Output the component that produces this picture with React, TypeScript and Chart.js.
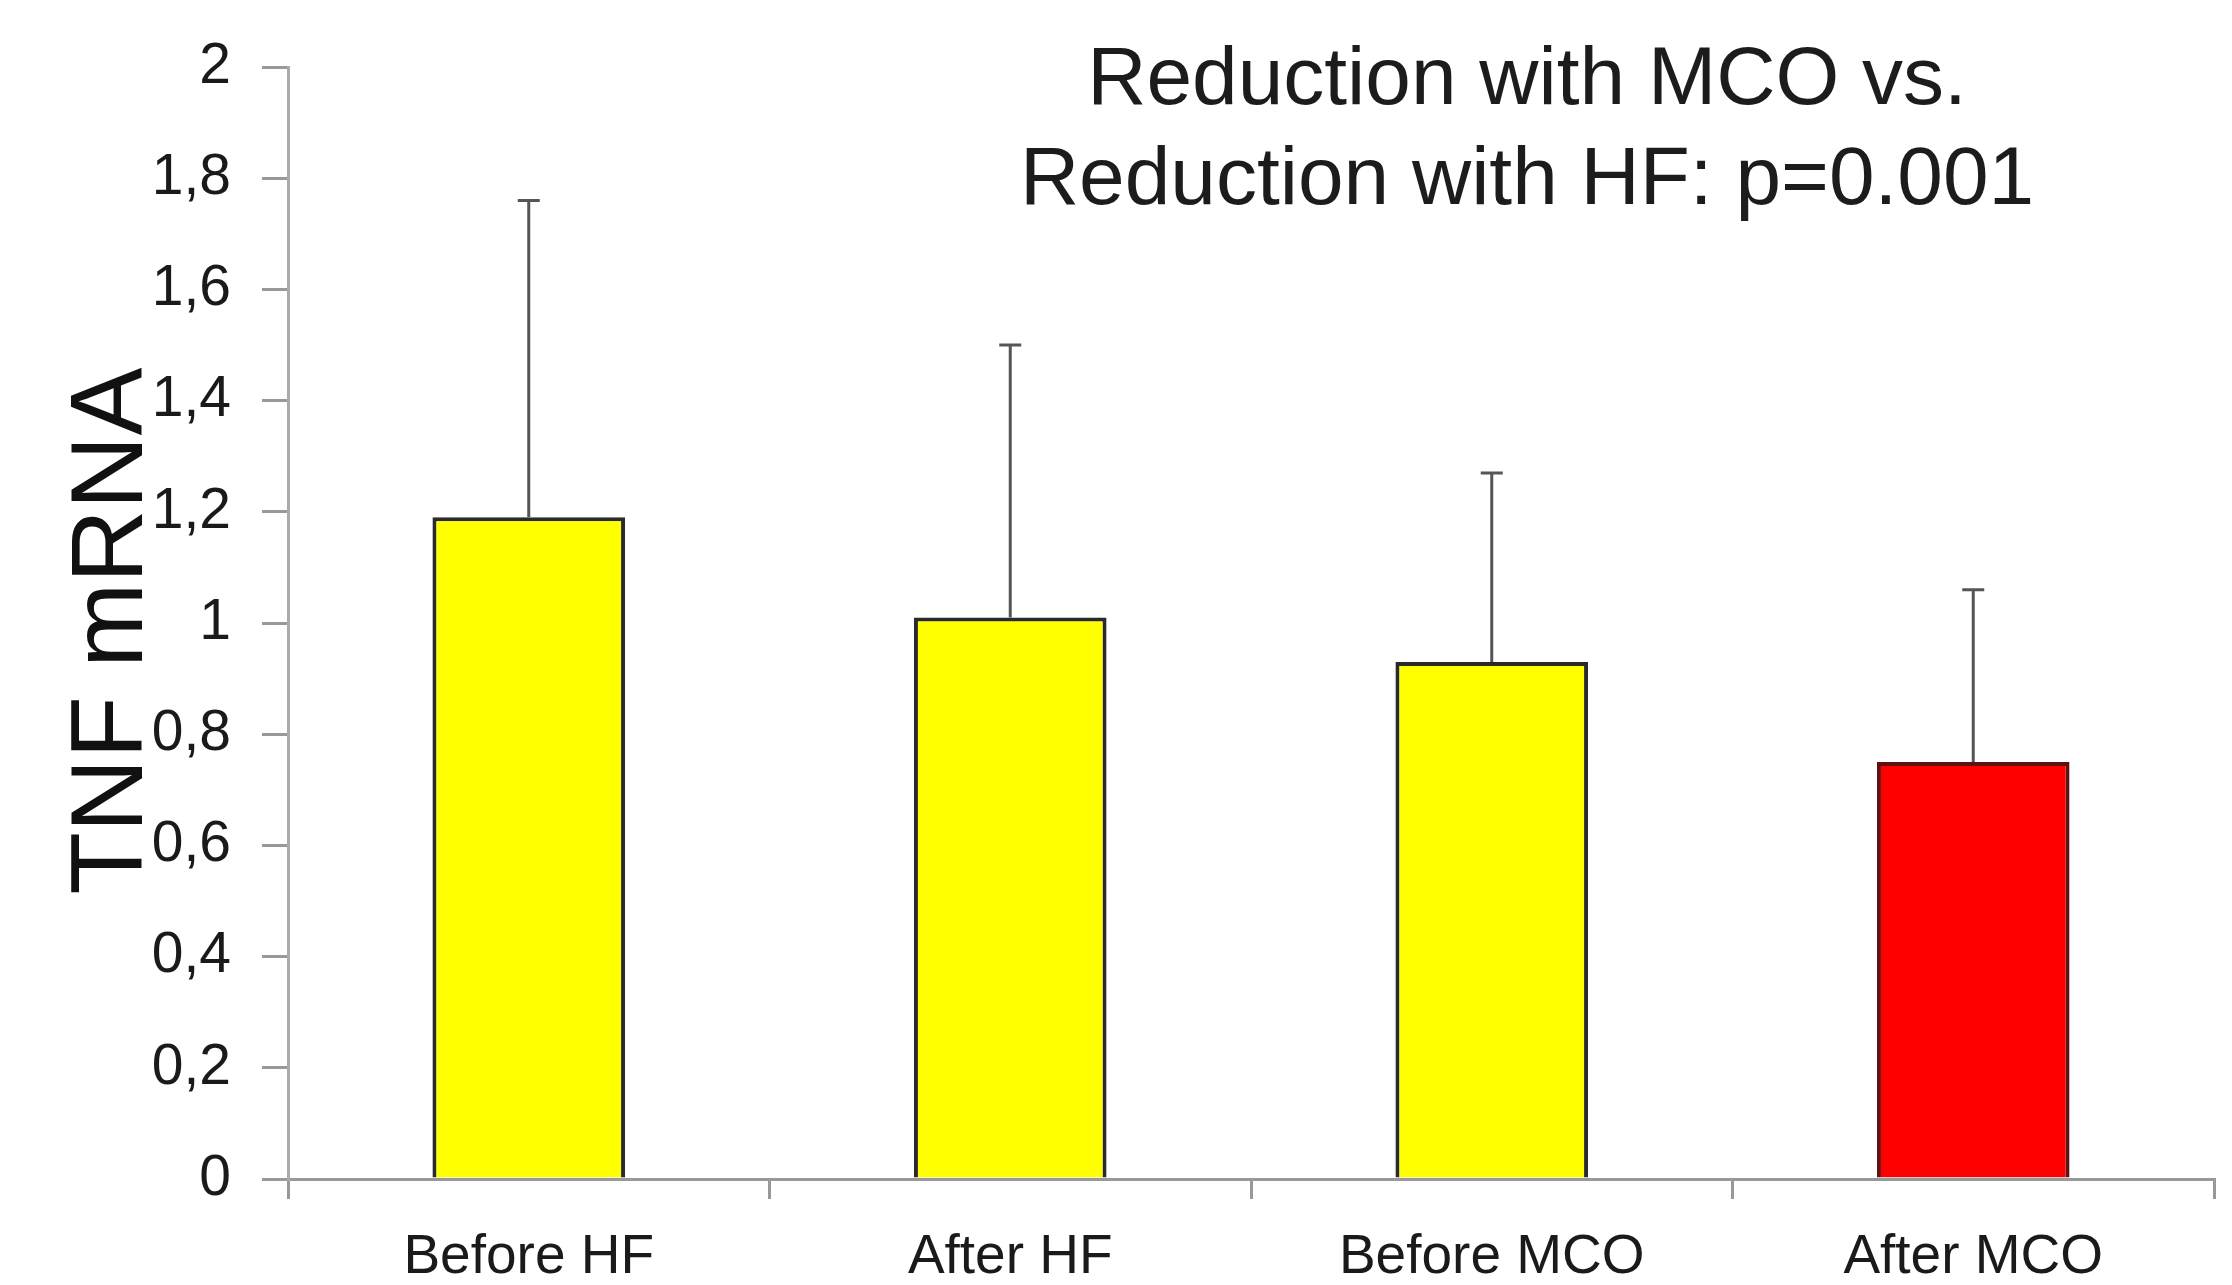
import React, { useEffect, useRef } from 'react';
import { Chart, registerables } from 'chart.js';

Chart.register(...registerables);

const categories = ['Before HF', 'After HF', 'Before MCO', 'After MCO'];
const means = [1.19, 1.01, 0.93, 0.75];
const errorTops = [1.76, 1.5, 1.27, 1.06];
const barColors = ['#FFFF00', '#FFFF00', '#FFFF00', '#FF0000'];
const barBorders = ['#2a2a2a', '#2a2a2a', '#2a2a2a', '#5e1212'];
const yTickLabels = ['0', '0,2', '0,4', '0,6', '0,8', '1', '1,2', '1,4', '1,6', '1,8', '2'];
const titleLines = ['Reduction with MCO vs.', 'Reduction with HF: p=0.001'];
const yTitle = 'TNF mRNA';

const FONT = '"Liberation Sans", Arial, sans-serif';

const W = 2232;
const H = 1285;

const errorBarPlugin = {
  id: 'errorBars',
  afterDatasetsDraw(chart: any) {
    const meta = chart.getDatasetMeta(0);
    const y = chart.scales.y;
    const ctx = chart.ctx;
    ctx.save();
    ctx.strokeStyle = '#555555';
    ctx.lineWidth = 3;
    meta.data.forEach((bar: any, i: number) => {
      const x = bar.x;
      const yTop = y.getPixelForValue(errorTops[i]);
      const yBase = y.getPixelForValue(means[i]);
      ctx.beginPath();
      ctx.moveTo(x, yBase);
      ctx.lineTo(x, yTop);
      ctx.moveTo(x - 11, yTop);
      ctx.lineTo(x + 11, yTop);
      ctx.stroke();
    });
    ctx.restore();
  },
};

const textPlugin = {
  id: 'texts',
  afterDraw(chart: any) {
    const ctx = chart.ctx;
    ctx.save();
    ctx.fillStyle = '#1c1c1c';
    ctx.textAlign = 'center';
    ctx.textBaseline = 'alphabetic';
    ctx.font = `82px ${FONT}`;
    ctx.fillText(titleLines[0], 1527, 104);
    ctx.fillText(titleLines[1], 1527, 204);

    // rotated y-axis title
    ctx.translate(142, 631);
    ctx.rotate(-Math.PI / 2);
    ctx.font = `102px ${FONT}`;
    ctx.fillStyle = '#111111';
    ctx.fillText(yTitle, 0, 0);
    ctx.restore();
  },
};

export default function App() {
  const ref = useRef<HTMLCanvasElement>(null);

  useEffect(() => {
    document.body.style.margin = '0';
    if (!ref.current) return;
    const chart = new Chart(ref.current, {
      type: 'bar',
      data: {
        labels: categories,
        datasets: [
          {
            data: means,
            backgroundColor: barColors,
            borderColor: barBorders,
            borderWidth: 4,
            barPercentage: 0.4,
            categoryPercentage: 1,
          },
        ],
      },
      options: {
        responsive: false,
        animation: false,
        layout: { padding: { left: 0, top: 67, right: 18, bottom: 0 } },
        plugins: {
          legend: { display: false },
          tooltip: { enabled: false },
          title: { display: false },
        },
        scales: {
          x: {
            grid: {
              display: true,
              drawOnChartArea: false,
              drawTicks: true,
              tickLength: 20,
              color: '#999999',
              lineWidth: 3,
              offset: true,
            },
            border: { display: true, color: '#999999', width: 3 },
            ticks: {
              color: '#1a1a1a',
              font: { family: FONT, size: 55 },
              padding: 26,
            },
            afterFit(scale: any) {
              scale.height = 106;
            },
          },
          y: {
            min: 0,
            max: 2,
            grid: {
              display: true,
              drawOnChartArea: false,
              drawTicks: true,
              tickLength: 26,
              color: '#999999',
              lineWidth: 3,
            },
            border: { display: true, color: '#aaaaaa', width: 3 },
            ticks: {
              stepSize: 0.2,
              color: '#1a1a1a',
              font: { family: FONT, size: 57 },
              padding: 31,
              callback: (_v: any, i: number) => yTickLabels[i],
            },
            afterFit(scale: any) {
              scale.width = 288;
            },
          },
        },
      },
      plugins: [errorBarPlugin, textPlugin],
    });
    return () => chart.destroy();
  }, []);

  return (
    <div style={{ width: W, height: H, background: '#ffffff' }}>
      <canvas ref={ref} width={W} height={H} style={{ display: 'block' }} />
    </div>
  );
}
